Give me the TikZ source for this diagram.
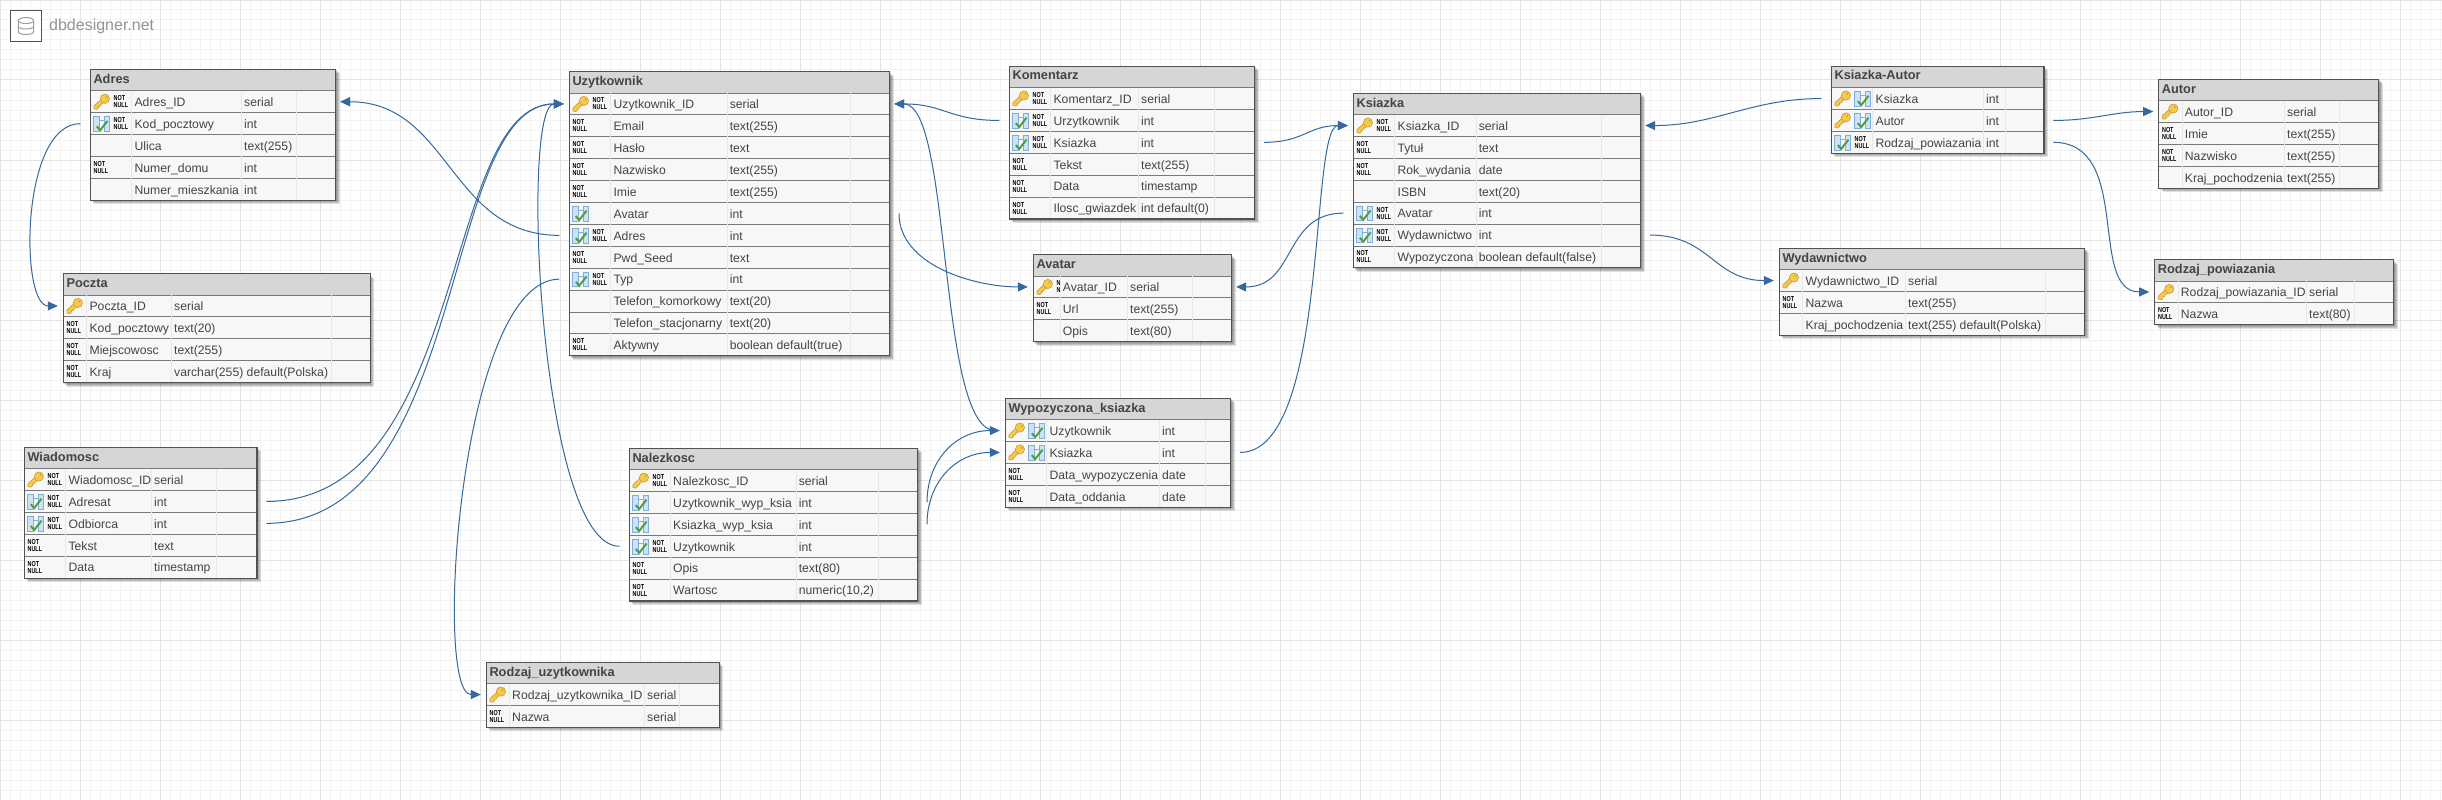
\documentclass[tikz,border=0pt]{standalone}
\usepackage{fontspec}
\setmainfont{Liberation Sans}
\usetikzlibrary{arrows.meta}
\definecolor{relblue}{HTML}{35689C}
\definecolor{textgrey}{HTML}{444444}
\definecolor{keygold}{HTML}{F6C94E}
\definecolor{keyedge}{HTML}{CC9A2C}
\definecolor{fkblue}{HTML}{7FAEDA}
\definecolor{fkfill}{HTML}{CFE2F4}
\definecolor{fkgreen}{HTML}{4E9E45}
\tikzset{
  gridminor/.style={draw=black!5,line width=1pt},
  gridmajor/.style={draw=black!11,line width=1pt},
  rowbox/.style={draw=black!52,fill=black!3,line width=.9pt,inner sep=0pt,outer sep=0pt,minimum height=21.9pt},
  headbox/.style={draw=black!65,fill=black!16,line width=1pt,inner sep=0pt,outer sep=0pt,minimum height=21.3pt},
  colline/.style={draw=black!9,line width=.7pt},
  tableframe/.style={draw=black!68,line width=1.1pt},
  headtext/.style={anchor=base west,inner sep=0pt,text=textgrey,font=\fontsize{12.8}{14}\selectfont\bfseries},
  fieldtext/.style={anchor=base west,inner sep=0pt,text=textgrey,font=\fontsize{12.2}{14}\selectfont},
  nullmark/.style={anchor=west,inner sep=0pt,align=left,text=black,font=\fontsize{7.2}{7}\selectfont\bfseries},
  rel/.style={->,draw=relblue,line width=1pt},
  logobox/.style={draw=black!68,fill=white,line width=1pt,minimum size=31pt,inner sep=0pt},
  logodb/.style={draw=black!38,line width=1pt},
  brandtext/.style={anchor=base west,inner sep=0pt,text=black!42,font=\fontsize{16}{18}\selectfont},
}
% Row marks: position, position, name
\newcommand{\icNo}[3]{}
\newcommand{\icNn}[3]{\node[nullmark] (#3) at (#1,#2) {\scalebox{.75}[1]{NOT}\\\scalebox{.75}[1]{NULL}};}
\newcommand{\icNc}[3]{\begin{scope}\clip (#1,#2-10) rectangle (#1+2.5,#2+10);\icNn{#1}{#2}{#3}\end{scope}}
\newcommand{\icKey}[3]{\begin{scope}[shift={(#1,#2)}]
  \filldraw[fill=keygold,draw=keyedge,line width=.6pt] (8.6,-3.4) -- (.4,4.2) -- (.4,7) -- (3.4,7.6) -- (5,6) -- (5,4.6) -- (6.6,4.6) -- (7.2,3) -- (11,.4) -- cycle;
  \filldraw[fill=keygold,draw=keyedge,line width=.6pt] (11.4,-3) circle (4.6);
  \fill[keyedge] (13,-4.6) circle (1);
  \end{scope}}
\newcommand{\icFk}[3]{\begin{scope}[shift={(#1,#2)}]
  \filldraw[fill=fkfill,draw=fkblue,line width=.5pt] (0,-7) rectangle (5.5,7.5);
  \filldraw[fill=fkfill,draw=fkblue,line width=.5pt] (10.5,-7) rectangle (16,7.5);
  \draw[fkblue,line width=.5pt] (5.5,-3) -- (10.5,-3);
  \draw[fkgreen,line width=2pt] (3.3,2.7) -- (6.7,6.6) -- (14,-2.7);
  \end{scope}}
% Table: name, title, width, rows, three columns, row list
\newcommand{\dbtable}[8]{
  \pgfmathsetmacro{\tH}{21.3+#4*21.9}
  \foreach \s in {1,...,4}
    \fill[black,opacity=.12] (\s,\s) rectangle (#3+\s,\tH+\s);
  \node[headbox,minimum width=#3pt,anchor=north west] (#1) at (0,0) {};
  \node[headtext] (#1-title) at (3,13.7) {#2};
  \foreach \fa/\fb/\fname/\ftype [count=\i] in {#8} {
    \pgfmathsetmacro{\ry}{21.3+(\i-.5)*21.9}
    \node[rowbox,minimum width=#3pt] (#1\i) at (#3/2,\ry) {};
    \coordinate (#1\i-l) at (-5.5,\ry);
    \coordinate (#1\i-r) at (#3+4.5,\ry);
    \coordinate (#1\i-ol) at (-10,\ry);
    \coordinate (#1\i-or) at (#3+9.3,\ry);
    \csname ic\fa\endcsname{3.2}{\ry}{#1\i-a}
    \csname ic\fb\endcsname{23.2}{\ry}{#1\i-b}
    \node[fieldtext] (#1\i-name) at (#5+2.7,\ry+4.8) {\fname};
    \node[fieldtext] (#1\i-type) at (#6+2.3,\ry+4.8) {\ftype};
  }
  \draw[colline] (#5,21.3) -- (#5,\tH);
  \draw[colline] (#6,21.3) -- (#6,\tH);
  \draw[colline] (#7,21.3) -- (#7,\tH);
  \draw[tableframe] (0,0) rectangle (#3,\tH);
}
\begin{document}
\begin{tikzpicture}[x=1pt,y=-1pt,>={Triangle[length=10pt,width=9pt]}]
  \useasboundingbox (0,0) rectangle (2442,800);
  \fill[white] (0,0) rectangle (2442,800);
  \draw[gridminor,step=10pt] (0,0) grid (2442,800);
  \draw[gridmajor,step=80pt] (0,0) grid (2442,800);
  % Node: logo
  \node[logobox] (logo) at (25.8,25.8) {};
  \draw[logodb] (26,20.5) ellipse [x radius=7.7,y radius=3];
  \draw[logodb] (18.3,20.5) -- (18.3,31.5) .. controls (18.3,35.5) and (33.7,35.5) .. (33.7,31.5) -- (33.7,20.5);
  \draw[logodb] (18.3,26) .. controls (18.3,30) and (33.7,30) .. (33.7,26);
  \node[brandtext] (brand) at (49,30.7) {dbdesigner.net};
  % Node: Adres
\begin{scope}[shift={(90.3,69.5)}]
  \dbtable{adres}{Adres}{245.2}{5}{41.4}{151.4}{206.4}{
    Key/Nn/Adres\_ID/serial,
    Fk/Nn/Kod\_pocztowy/int,
    No/No/Ulica/text(255),
    Nn/No/Numer\_domu/int,
    No/No/Numer\_mieszkania/int}
\end{scope}
  % Node: Poczta
\begin{scope}[shift={(63.3,273.7)}]
  \dbtable{poczta}{Poczta}{307}{4}{23.4}{108.4}{268.4}{
    Key/No/Poczta\_ID/serial,
    Nn/No/Kod\_pocztowy/text(20),
    Nn/No/Miejscowosc/text(255),
    Nn/No/Kraj/varchar(255) default(Polska)}
\end{scope}
  % Node: Uzytkownik
\begin{scope}[shift={(569.3,71.7)}]
  \dbtable{uzytkownik}{Uzytkownik}{320.4}{12}{41.4}{158}{280.7}{
    Key/Nn/Uzytkownik\_ID/serial,
    Nn/No/Email/text(255),
    Nn/No/Hasło/text,
    Nn/No/Nazwisko/text(255),
    Nn/No/Imie/text(255),
    Fk/No/Avatar/int,
    Fk/Nn/Adres/int,
    Nn/No/Pwd\_Seed/text,
    Fk/Nn/Typ/int,
    No/No/Telefon\_komorkowy/text(20),
    No/No/Telefon\_stacjonarny/text(20),
    Nn/No/Aktywny/boolean default(true)}
\end{scope}
  % Node: Komentarz
\begin{scope}[shift={(1009.3,66.3)}]
  \dbtable{komentarz}{Komentarz}{245.4}{6}{41.4}{129.4}{205}{
    Key/Nn/Komentarz\_ID/serial,
    Fk/Nn/Urzytkownik/int,
    Fk/Nn/Ksiazka/int,
    Nn/No/Tekst/text(255),
    Nn/No/Data/timestamp,
    Nn/No/Ilosc\_gwiazdek/int default(0)}
\end{scope}
  % Node: Avatar
\begin{scope}[shift={(1033.3,254.7)}]
  \dbtable{avatar}{Avatar}{198.4}{3}{26.7}{94.4}{159.4}{
    Key/Nc/Avatar\_ID/serial,
    Nn/No/Url/text(255),
    No/No/Opis/text(80)}
\end{scope}
  % Node: Ksiazka
\begin{scope}[shift={(1353.3,93.3)}]
  \dbtable{ksiazka}{Ksiazka}{287.4}{7}{41.4}{123}{248.4}{
    Key/Nn/Ksiazka\_ID/serial,
    Nn/No/Tytuł/text,
    Nn/No/Rok\_wydania/date,
    No/No/ISBN/text(20),
    Fk/Nn/Avatar/int,
    Fk/Nn/Wydawnictwo/int,
    Nn/No/Wypozyczona/boolean default(false)}
\end{scope}
  % Node: Ksiazka-Autor
\begin{scope}[shift={(1831.3,66.3)}]
  \dbtable{ksiazkaautor}{Ksiazka-Autor}{212.7}{3}{41.4}{152.4}{173.7}{
    Key/Fk/Ksiazka/int,
    Key/Fk/Autor/int,
    Fk/Nn/Rodzaj\_powiazania/int}
\end{scope}
  % Node: Wydawnictwo
\begin{scope}[shift={(1779.3,248.3)}]
  \dbtable{wydawnictwo}{Wydawnictwo}{305.4}{3}{23.4}{126.4}{266.4}{
    Key/No/Wydawnictwo\_ID/serial,
    Nn/No/Nazwa/text(255),
    No/No/Kraj\_pochodzenia/text(255) default(Polska)}
\end{scope}
  % Node: Autor
\begin{scope}[shift={(2158.7,79.3)}]
  \dbtable{autor}{Autor}{220}{4}{23.3}{126}{181}{
    Key/No/Autor\_ID/serial,
    Nn/No/Imie/text(255),
    Nn/No/Nazwisko/text(255),
    No/No/Kraj\_pochodzenia/text(255)}
\end{scope}
  % Node: Rodzaj_powiazania
\begin{scope}[shift={(2154.7,259.7)}]
  \dbtable{rodzajpowiazania}{Rodzaj\_powiazania}{239}{2}{23.3}{152}{199.6}{
    Key/No/Rodzaj\_powiazania\_ID/serial,
    Nn/No/Nazwa/text(80)}
\end{scope}
  % Node: Wiadomosc
\begin{scope}[shift={(24.3,447.3)}]
  \dbtable{wiadomosc}{Wiadomosc}{232.7}{5}{41.4}{127.4}{192}{
    Key/Nn/Wiadomosc\_ID/serial,
    Fk/Nn/Adresat/int,
    Fk/Nn/Odbiorca/int,
    Nn/No/Tekst/text,
    Nn/No/Data/timestamp}
\end{scope}
  % Node: Nalezkosc
\begin{scope}[shift={(629.3,448.3)}]
  \dbtable{nalezkosc}{Nalezkosc}{288.4}{6}{41}{167}{249}{
    Key/Nn/Nalezkosc\_ID/serial,
    Fk/No/Uzytkownik\_wyp\_ksia/int,
    Fk/No/Ksiazka\_wyp\_ksia/int,
    Fk/Nn/Uzytkownik/int,
    Nn/No/Opis/text(80),
    Nn/No/Wartosc/{numeric(10,2)}}
\end{scope}
  % Node: Rodzaj_uzytkownika
\begin{scope}[shift={(486.3,662.3)}]
  \dbtable{rodzajuzytkownika}{Rodzaj\_uzytkownika}{233}{2}{23}{158.4}{193}{
    Key/No/Rodzaj\_uzytkownika\_ID/serial,
    Nn/No/Nazwa/serial}
\end{scope}
  % Node: Wypozyczona_ksiazka
\begin{scope}[shift={(1005.3,398.3)}]
  \dbtable{wypozyczona}{Wypozyczona\_ksiazka}{225.4}{4}{41.4}{154.4}{200}{
    Key/Fk/Uzytkownik/int,
    Key/Fk/Ksiazka/int,
    Nn/No/Data\_wypozyczenia/date,
    Nn/No/Data\_oddania/date}
\end{scope}
  % Edge: Adres -> Poczta
  \draw[rel] (adres2-ol) .. controls +(-60,0) and +(-38,0) .. (poczta1-l);
  % Edge: Uzytkownik -> Adres
  \draw[rel] (uzytkownik7-ol) .. controls +(-110,0) and +(110,0) .. (adres1-r);
  % Edge: Wiadomosc -> Uzytkownik
  \draw[rel] (wiadomosc2-or) .. controls +(204,0) and +(-124,0) .. (uzytkownik1-l);
  \draw[rel] (wiadomosc3-or) .. controls +(204,0) and +(-124,0) .. (uzytkownik1-l);
  % Edge: Nalezkosc -> Uzytkownik
  \draw[rel] (nalezkosc4-ol) .. controls +(-80,0) and +(-44,0) .. (uzytkownik1-l);
  % Edge: Uzytkownik -> Rodzaj_uzytkownika
  \draw[rel] (uzytkownik9-ol) .. controls +(-100,0) and +(-48,0) .. (rodzajuzytkownika1-l);
  % Edge: Komentarz -> Uzytkownik
  \draw[rel] (komentarz2-ol) .. controls +(-50,0) and +(50,0) .. (uzytkownik1-r);
  % Edge: Wypozyczona_ksiazka -> Uzytkownik
  \draw[rel] (wypozyczona1-ol) .. controls +(-58,0) and +(58,0) .. (uzytkownik1-r);
  % Edge: Uzytkownik -> Avatar
  \draw[rel] (uzytkownik6-or) .. controls +(0,52) and +(-53,0) .. (avatar1-l);
  % Edge: Komentarz -> Ksiazka
  \draw[rel] (komentarz3-or) .. controls +(40,0) and +(-40,0) .. (ksiazka1-l);
  % Edge: Wypozyczona_ksiazka -> Ksiazka
  \draw[rel] (wypozyczona2-or) .. controls +(90,0) and +(-39,0) .. (ksiazka1-l);
  % Edge: Ksiazka -> Avatar
  \draw[rel] (ksiazka5-ol) .. controls +(-60,0) and +(60,0) .. (avatar1-r);
  % Edge: Ksiazka -> Wydawnictwo
  \draw[rel] (ksiazka6-or) .. controls +(60,0) and +(-60,0) .. (wydawnictwo1-l);
  % Edge: Ksiazka-Autor -> Ksiazka
  \draw[rel] (ksiazkaautor1-ol) .. controls +(-70,0) and +(70,0) .. (ksiazka1-r);
  % Edge: Ksiazka-Autor -> Autor
  \draw[rel] (ksiazkaautor2-or) .. controls +(40,0) and +(-40,0) .. (autor1-l);
  % Edge: Ksiazka-Autor -> Rodzaj_powiazania
  \draw[rel] (ksiazkaautor3-or) .. controls +(80,0) and +(-62,0) .. (rodzajpowiazania1-l);
  % Edge: Nalezkosc -> Wypozyczona_ksiazka
  \draw[rel] (nalezkosc2-or) .. controls +(0,-42) and +(-44,0) .. (wypozyczona1-l);
  \draw[rel] (nalezkosc3-or) .. controls +(0,-42) and +(-44,0) .. (wypozyczona2-l);
\end{tikzpicture}
\end{document}
